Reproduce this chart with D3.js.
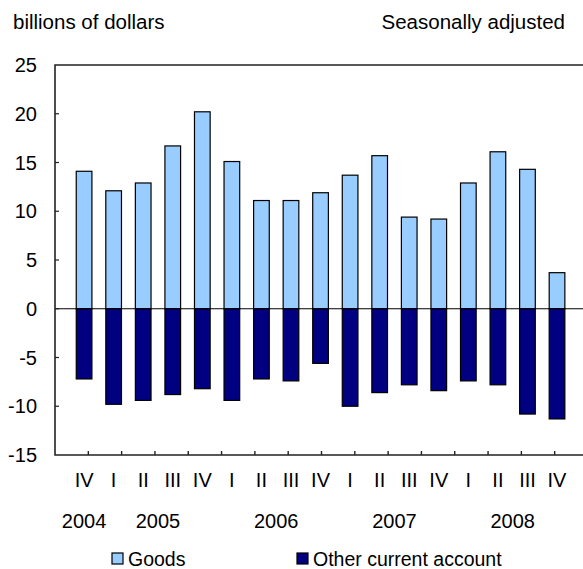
<!DOCTYPE html>
<html>
<head>
<meta charset="utf-8">
<script src="https://cdn.jsdelivr.net/npm/d3@7"></script>
<style>
  html, body { margin: 0; padding: 0; background: #fff; }
  svg { display: block; font-family: "Liberation Sans", Arial, sans-serif; }
</style>
</head>
<body>
<div id="chart"></div>
<script>
const quarters = ['IV', 'I', 'II', 'III', 'IV', 'I', 'II', 'III', 'IV', 'I', 'II', 'III', 'IV', 'I', 'II', 'III', 'IV'];
const years = ['2004', '2005', '2006', '2007', '2008'];
const yearStart = [0, 1, 5, 9, 13]; // first quarter index of each year
const yearEnd = [0, 4, 8, 12, 16];
const goods = [14.1, 12.1, 12.9, 16.7, 20.2, 15.1, 11.1, 11.1, 11.9, 13.7, 15.7, 9.4, 9.2, 12.9, 16.1, 14.3, 3.7];
const other = [-7.2, -9.8, -9.4, -8.8, -8.2, -9.4, -7.2, -7.4, -5.6, -10.0, -8.6, -7.8, -8.4, -7.4, -7.8, -10.8, -11.3];
const yTicks = [25, 20, 15, 10, 5, 0, -5, -10, -15];
const seriesNames = ['Goods', 'Other current account'];
const colors = ['#99ccff', '#000080'];

const width = 583, height = 569;
const plot = {left: 55, right: 590, top: 65, bottom: 455};

const svg = d3.select('#chart').append('svg')
    .attr('width', width)
    .attr('height', height);

const y = d3.scaleLinear()
    .domain([-15, 25])
    .range([plot.bottom, plot.top]);

const idx = quarters.map((q, i) => i);
const x = d3.scaleBand()
    .domain(idx)
    .range([69.3, 571.8])
    .paddingInner(0.47)
    .paddingOuter(0.235);

// tick marks along the bottom use their own spacing
const tickX = d3.scaleLinear().domain([0, 16]).range([plot.left, 588]);

// header texts
svg.append('text')
    .attr('x', 13).attr('y', 29)
    .attr('font-size', 20.5)
    .text('billions of dollars');
svg.append('text')
    .attr('x', 565).attr('y', 29)
    .attr('text-anchor', 'end')
    .attr('font-size', 20.5)
    .text('Seasonally adjusted');

// bars
svg.append('g').selectAll('rect.goods')
    .data(goods)
    .join('rect')
    .attr('x', (d, i) => x(i))
    .attr('y', d => y(d))
    .attr('width', x.bandwidth())
    .attr('height', d => y(0) - y(d))
    .attr('fill', colors[0])
    .attr('stroke', '#000')
    .attr('stroke-width', 1.2);

svg.append('g').selectAll('rect.other')
    .data(other)
    .join('rect')
    .attr('x', (d, i) => x(i))
    .attr('y', y(0))
    .attr('width', x.bandwidth())
    .attr('height', d => y(d) - y(0))
    .attr('fill', colors[1])
    .attr('stroke', '#000')
    .attr('stroke-width', 1.2);

// zero line
svg.append('line')
    .attr('x1', plot.left).attr('x2', plot.right)
    .attr('y1', y(0)).attr('y2', y(0))
    .attr('stroke', '#000').attr('stroke-width', 1.2);

// frame: left, top, bottom
const frame = svg.append('g').attr('stroke', '#222').attr('stroke-width', 1.6).attr('fill', 'none');
frame.append('path')
    .attr('d', `M${plot.right},${plot.top}H${plot.left}V${plot.bottom}H${plot.right}`);

// y axis labels and small inward ticks
const yAxis = svg.append('g');
yAxis.selectAll('text')
    .data(yTicks)
    .join('text')
    .attr('x', 37)
    .attr('y', d => y(d))
    .attr('dy', '0.35em')
    .attr('text-anchor', 'end')
    .attr('font-size', 20)
    .text(d => d);
yAxis.selectAll('line')
    .data(yTicks.filter(d => d > -15 && d < 25))
    .join('line')
    .attr('x1', plot.left).attr('x2', plot.left + 4)
    .attr('y1', d => y(d)).attr('y2', d => y(d))
    .attr('stroke', '#222').attr('stroke-width', 1.2);

// bottom ticks
svg.append('g').selectAll('line')
    .data(d3.range(1, 17))
    .join('line')
    .attr('x1', d => tickX(d)).attr('x2', d => tickX(d))
    .attr('y1', plot.bottom).attr('y2', plot.bottom - 4)
    .attr('stroke', '#222').attr('stroke-width', 1.4);

// quarter labels
svg.append('g').selectAll('text')
    .data(quarters)
    .join('text')
    .attr('x', (d, i) => x(i) + x.bandwidth() / 2)
    .attr('y', 480)
    .attr('dy', '0.35em')
    .attr('text-anchor', 'middle')
    .attr('font-size', 20)
    .text(d => d);

// year labels
svg.append('g').selectAll('text')
    .data(years)
    .join('text')
    .attr('x', (d, i) => (x(yearStart[i]) + x(yearEnd[i]) + x.bandwidth()) / 2)
    .attr('y', 521)
    .attr('dy', '0.35em')
    .attr('text-anchor', 'middle')
    .attr('font-size', 20)
    .text(d => d);

// legend
const legendX = [112, 297];
const legend = svg.append('g');
seriesNames.forEach((name, i) => {
    legend.append('rect')
        .attr('x', legendX[i]).attr('y', 553)
        .attr('width', 11).attr('height', 11)
        .attr('fill', colors[i])
        .attr('stroke', '#000').attr('stroke-width', 1.2);
    legend.append('text')
        .attr('x', legendX[i] + 16).attr('y', 559)
        .attr('dy', '0.35em')
        .attr('font-size', 19.5)
        .text(name);
});
</script>
</body>
</html>
